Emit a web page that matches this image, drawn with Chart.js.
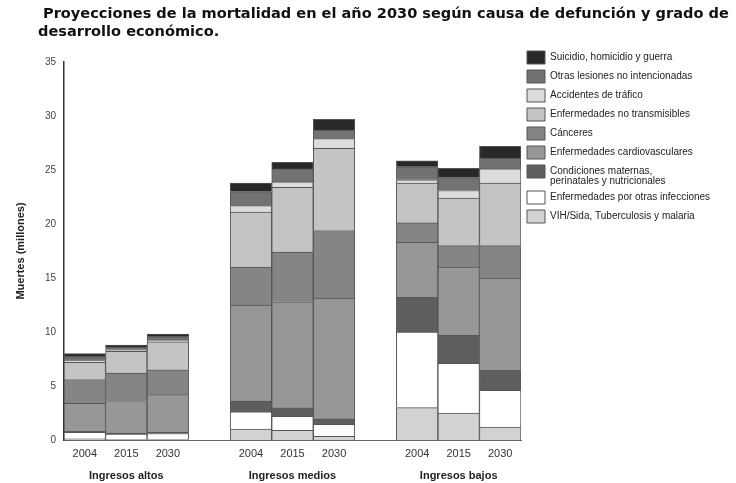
<!DOCTYPE html>
<html>
<head>
<meta charset="utf-8">
<script src="https://cdn.jsdelivr.net/npm/chart.js@4/dist/chart.umd.min.js"></script>
<style>
  html, body { margin: 0; padding: 0; background: #fff; }
  #wrap { width: 736px; height: 483px; }
</style>
</head>
<body>
<div id="wrap"><canvas id="chart" width="736" height="483"></canvas></div>
<script>
// categories: three years per income group, with an empty slot between groups
const years = ['2004', '2015', '2030', '', '2004', '2015', '2030', '', '2004', '2015', '2030'];
const groups = ['', 'Ingresos altos', '', '', '', 'Ingresos medios', '', '', '', 'Ingresos bajos', ''];

// deaths in millions, stacked from the bottom up
const vih = [0.1, 0.05, 0.05, null, 1.0, 0.9, 0.35, null, 3.0, 2.5, 1.2];
const otrasInfecciones = [0.6, 0.5, 0.55, null, 1.6, 1.3, 1.1, null, 7.0, 4.6, 3.4];
const maternas = [0.1, 0.1, 0.1, null, 1.0, 0.8, 0.5, null, 3.2, 2.6, 1.9];
const cardio = [2.6, 3.0, 3.5, null, 8.9, 9.8, 11.2, null, 5.1, 6.3, 8.5];
const canceres = [2.2, 2.55, 2.3, null, 3.5, 4.6, 6.25, null, 1.8, 2.0, 3.0];
const noTransmisibles = [1.6, 2.0, 2.6, null, 5.1, 6.0, 7.6, null, 3.7, 4.4, 5.8];
const accidentes = [0.15, 0.15, 0.15, null, 0.6, 0.5, 0.9, null, 0.3, 0.7, 1.3];
const otrasLesiones = [0.35, 0.25, 0.3, null, 1.3, 1.2, 0.8, null, 1.2, 1.2, 1.0];
const suicidio = [0.3, 0.2, 0.25, null, 0.8, 0.6, 1.0, null, 0.55, 0.85, 1.1];

const yTicks = [0, 5, 10, 15, 20, 25, 30, 35];

const titleLines = [
  'Proyecciones de la mortalidad en el año 2030 según causa de defunción y grado de',
  'desarrollo económico.'
];

const series = [
  { label: 'VIH/Sida, Tuberculosis y malaria', data: vih, color: '#d2d2d2' },
  { label: 'Enfermedades por otras infecciones', data: otrasInfecciones, color: '#ffffff' },
  { label: 'Condiciones maternas,\nperinatales y nutricionales', data: maternas, color: '#5e5e5e' },
  { label: 'Enfermedades cardiovasculares', data: cardio, color: '#979797' },
  { label: 'Cánceres', data: canceres, color: '#858585' },
  { label: 'Enfermedades no transmisibles', data: noTransmisibles, color: '#c4c4c4' },
  { label: 'Accidentes de tráfico', data: accidentes, color: '#dcdcdc' },
  { label: 'Otras lesiones no intencionadas', data: otrasLesiones, color: '#727272' },
  { label: 'Suicidio, homicidio y guerra', data: suicidio, color: '#282828' }
];

const font = 'Liberation Sans, Arial, sans-serif';

// the heading runs wider than the plot box, so it is drawn straight on the canvas
const heading = {
  id: 'heading',
  afterDraw(chart) {
    const ctx = chart.ctx;
    ctx.save();
    ctx.font = 'bold 14.55px "DejaVu Sans"';
    ctx.fillStyle = '#111';
    ctx.textBaseline = 'middle';
    ctx.fillText(titleLines[0], 43, 14);
    ctx.fillText(titleLines[1], 38, 32);
    ctx.restore();
  }
};

// the layout caps a side legend at a quarter of the width; give it the room it needs
const wideLegend = {
  id: 'wideLegend',
  afterInit(chart) {
    const legend = chart.legend;
    const fit = legend.fit;
    legend.fit = function () {
      fit.call(this);
      this.width = 210;
    };
  }
};

new Chart(document.getElementById('chart'), {
  type: 'bar',
  data: {
    labels: years,
    datasets: series.map(s => ({
      label: s.label,
      data: s.data,
      backgroundColor: s.color,
      borderColor: '#555',
      borderWidth: 1,
      barPercentage: 1,
      categoryPercentage: 1
    }))
  },
  plugins: [heading, wideLegend],
  options: {
    responsive: false,
    animation: false,
    layout: { padding: { left: 12, right: 5, top: 0, bottom: 0 } },
    plugins: {
      // empty title only reserves the room for the heading
      title: {
        display: true,
        text: ' ',
        font: { size: 10, lineHeight: 1 },
        padding: { top: 0, bottom: 52 }
      },
      legend: {
        position: 'right',
        align: 'start',
        reverse: true,
        title: { display: true, text: ' ', font: { size: 10, lineHeight: 1 }, padding: { top: 35, bottom: 0 } },
        labels: {
          boxWidth: 18,
          boxHeight: 13,
          padding: 6,
          color: '#222',
          font: { family: font, size: 10, lineHeight: 1.0 },
          generateLabels(chart) {
            const items = Chart.defaults.plugins.legend.labels.generateLabels(chart);
            items.forEach(it => { if (it.text.includes('\n')) it.text = it.text.split('\n'); });
            return items;
          }
        }
      },
      tooltip: { enabled: false }
    },
    scales: {
      x: {
        stacked: true,
        offset: true,
        weight: 0,
        grid: { display: false, drawTicks: false },
        border: { display: true, color: '#666', dash: [2, 2] },
        ticks: { color: '#333', font: { family: font, size: 11 }, padding: 7, autoSkip: false, maxRotation: 0 },
        afterFit(scale) { scale.height = 20; }
      },
      x2: {
        type: 'category',
        position: 'bottom',
        labels: groups,
        offset: true,
        weight: 1,
        grid: { display: false, drawTicks: false },
        border: { display: false },
        ticks: { color: '#222', font: { family: font, size: 11, weight: 'bold' }, padding: 9, autoSkip: false, maxRotation: 0 },
        afterFit(scale) { scale.height = 23; }
      },
      y: {
        stacked: true,
        min: 0,
        max: 35,
        afterBuildTicks(scale) { scale.ticks = yTicks.map(v => ({ value: v })); },
        grid: { display: false, drawTicks: false },
        border: { display: true, color: '#333', width: 1.5 },
        ticks: { color: '#444', font: { family: font, size: 10 }, padding: 8 },
        title: {
          display: true,
          text: 'Muertes (millones)',
          color: '#222',
          font: { family: font, size: 11, weight: 'bold' },
          padding: { top: 2, bottom: 0 }
        },
        afterFit(scale) { scale.width = 52; }
      }
    }
  }
});
</script>
</body>
</html>
